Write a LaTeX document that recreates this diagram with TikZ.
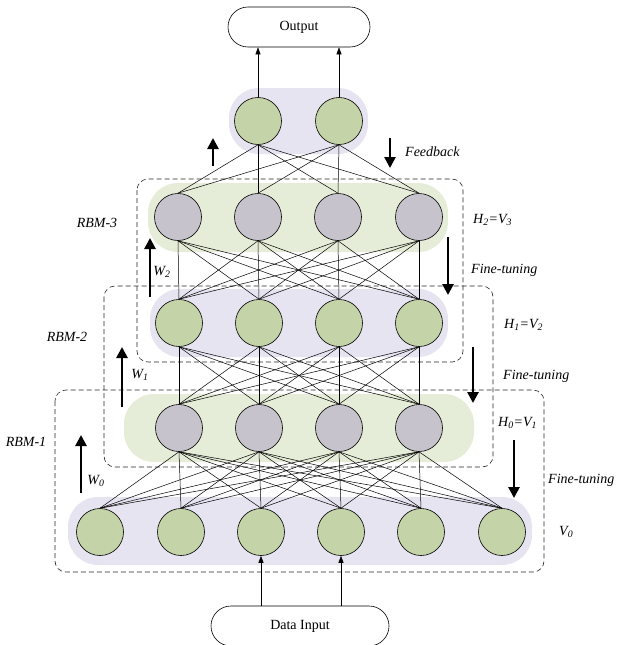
\documentclass[tikz,border=0pt]{standalone}
\usepackage{fontspec}
\setmainfont{Liberation Serif}
\usetikzlibrary{arrows.meta}
\pgfdeclarelayer{back}
\pgfdeclarelayer{mid}
\pgfsetlayers{back,mid,main}
\definecolor{nodegreen}{RGB}{196,211,168}
\definecolor{nodegray}{RGB}{198,195,205}
\definecolor{bglav}{RGB}{230,228,240}
\definecolor{bggreen}{RGB}{229,237,216}
\tikzset{
  neuron/.style={circle, draw=black, line width=0.6pt, minimum size=47pt, inner sep=0pt},
  gn/.style={neuron, fill=nodegreen},
  hn/.style={neuron, fill=nodegray},
  bglavs/.style={fill=bglav, rounded corners=30pt},
  bggreens/.style={fill=bggreen, rounded corners=30pt},
  rbmbox/.style={draw=black!85, dash pattern=on 5pt off 3pt, rounded corners=11pt, line width=0.6pt},
  link/.style={line width=0.5pt},
  bigarrow/.style={line width=2.6pt, -{Triangle[width=11pt,length=11pt]}},
  smallarrow/.style={line width=0.6pt, -{Triangle[width=5pt,length=7pt]}},
  lbl/.style={font=\fontsize{14}{16}\selectfont\itshape, inner sep=0pt},
  io/.style={draw, line width=0.6pt, rounded corners=20pt, minimum height=40pt, inner sep=0pt, font=\fontsize{14}{16}\selectfont},
}
\begin{document}
\begin{tikzpicture}[x=1pt,y=-1pt]
\useasboundingbox (0,0) rectangle (617,645);
% neurons
\foreach \x [count=\i] in {258,339} \node[gn] (t\i) at (\x,121) {};
\foreach \x [count=\i] in {178,258,338,419} \node[hn] (a\i) at (\x,217) {};
\foreach \x [count=\i] in {179,259,339,419} \node[gn] (b\i) at (\x,323) {};
\foreach \x [count=\i] in {179,259,339,419} \node[hn] (c\i) at (\x,428) {};
\foreach \x [count=\i] in {100,181,261,341,421,502} \node[gn] (d\i) at (\x,532) {};
% layer backgrounds and RBM boxes
\begin{pgfonlayer}{back}
\fill[bglavs] (229,88) rectangle (368,154);
\fill[bggreens] (148,183) rectangle (448,252);
\fill[bglavs] (150,289) rectangle (448,357);
\fill[bggreens] (124,394) rectangle (474,462);
\fill[bglavs] (68,497) rectangle (532,565);
\end{pgfonlayer}
\begin{pgfonlayer}{mid}
\draw[rbmbox] (137,179) rectangle (463,362);
\draw[rbmbox] (104,286) rectangle (493,467);
\draw[rbmbox] (55,390) rectangle (544,572);
\foreach \i in {1,2} \foreach \j in {1,...,4} \draw[link] (t\i.south) -- (a\j.north);
\foreach \i in {1,...,4} \foreach \j in {1,...,4} \draw[link] (a\i.south) -- (b\j.north);
\foreach \i in {1,...,4} \foreach \j in {1,...,4} \draw[link] (b\i.south) -- (c\j.north);
\foreach \i in {1,...,4} \foreach \j in {1,...,6} \draw[link] (c\i.south) -- (d\j.north);
\end{pgfonlayer}
% input / output
\node[io, minimum width=142pt] (out) at (299,27) {Output};
\node[io, minimum width=178pt] (in) at (300,626) {Data Input};
\draw[smallarrow] (t1.north) -- (t1.north |- out.south);
\draw[smallarrow] (t2.north) -- (t2.north |- out.south);
\draw[smallarrow] (in.north -| d3.south) -- (d3.south);
\draw[smallarrow] (in.north -| d4.south) -- (d4.south);
% big arrows
\draw[bigarrow] (213,166) -- (213,138);
\draw[bigarrow] (150,297) -- (150,238);
\draw[bigarrow] (122,407) -- (122,347);
\draw[bigarrow] (81,493) -- (81,435);
\draw[bigarrow] (390,138) -- (390,168);
\draw[bigarrow] (448,237) -- (448,295);
\draw[bigarrow] (473,347) -- (473,403);
\draw[bigarrow] (514,440) -- (514,498);
% labels
\node[lbl] (rbm3) at (97,223) {RBM-3};
\node[lbl] (rbm2) at (67,337) {RBM-2};
\node[lbl] (rbm1) at (26,442) {RBM-1};
\node[lbl] (w2) at (162,272) {W\textsubscript{2}};
\node[lbl] (w1) at (140,375) {W\textsubscript{1}};
\node[lbl] (w0) at (96,481) {W\textsubscript{0}};
\node[lbl, anchor=west] (fb) at (405,152) {Feedback};
\node[lbl, anchor=west] (h2) at (473,220) {H\textsubscript{2}=V\textsubscript{3}};
\node[lbl, anchor=west] (ft1) at (471,270) {Fine-tuning};
\node[lbl, anchor=west] (h1) at (504,325) {H\textsubscript{1}=V\textsubscript{2}};
\node[lbl, anchor=west] (ft2) at (503,376) {Fine-tuning};
\node[lbl, anchor=west] (h0) at (498,423) {H\textsubscript{0}=V\textsubscript{1}};
\node[lbl, anchor=west] (ft3) at (548,480) {Fine-tuning};
\node[lbl, anchor=west] (v0) at (559,532) {V\textsubscript{0}};
\end{tikzpicture}
\end{document}
